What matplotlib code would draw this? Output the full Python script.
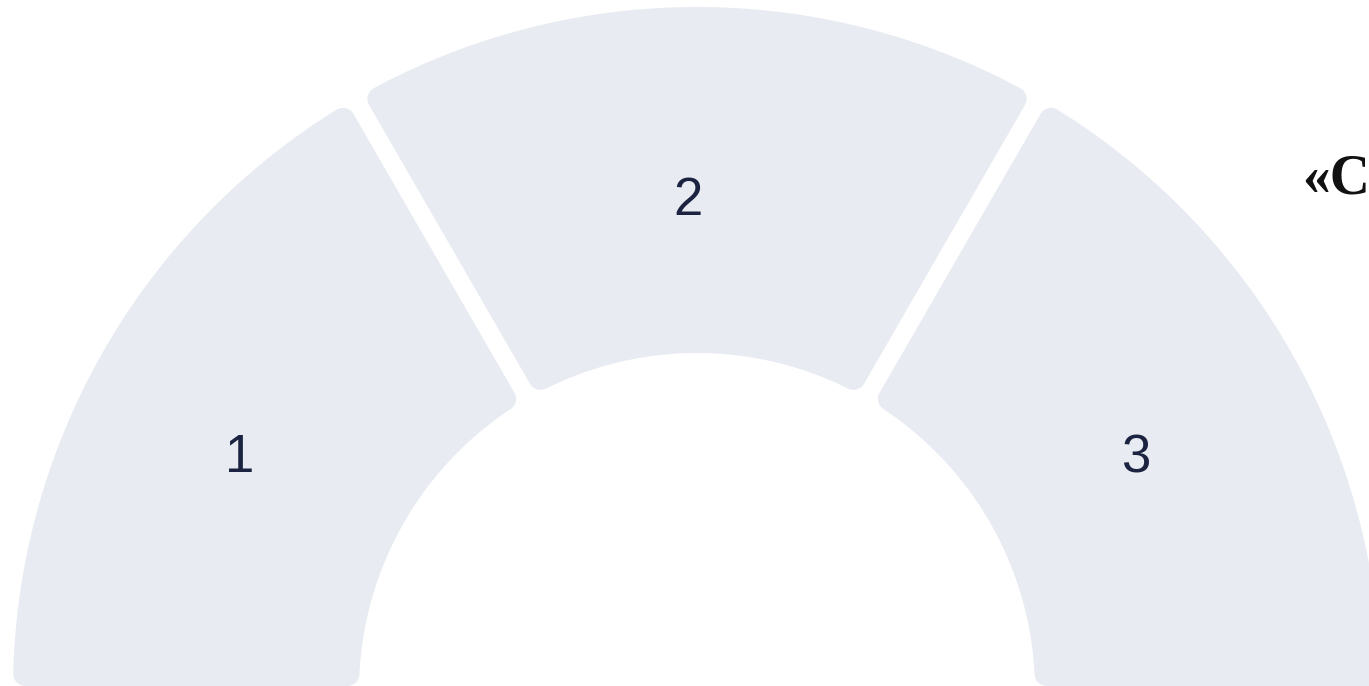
import numpy as np
import matplotlib
matplotlib.use("Agg")
import matplotlib.pyplot as plt
from matplotlib.patches import Polygon

# datos
labels = ["1", "2", "3"]
values = [1, 1, 1]
title_text = "«C"

# geometría (px)
W, H = 1369, 686
cx, cy = 697, -5
r_in, r_out = 338, 684
gap = 9          # medio hueco entre sectores
corner = 12      # radio de esquinas
fill = "#E8EBF2"
txt_color = "#1B2340"
label_shift = [(-4, -1), (-9, -20), (-14, -1)]  # ajuste fino de etiquetas

fig = plt.figure(figsize=(W / 100, H / 100), dpi=100)
ax = fig.add_axes([0, 0, 1, 1])
ax.set_xlim(0, W)
ax.set_ylim(0, H)
ax.axis("off")


def sector(a1, a2, d1, d2):
    # a1 < a2 en grados; d1, d2 desplazamiento de los bordes rectos
    ro = r_out - corner
    ri = r_in + corner
    d1 += corner
    d2 += corner
    t1o = np.radians(a1) + np.arcsin(d1 / ro)
    t2o = np.radians(a2) - np.arcsin(d2 / ro)
    t1i = np.radians(a1) + np.arcsin(d1 / ri)
    t2i = np.radians(a2) - np.arcsin(d2 / ri)
    to = np.linspace(t1o, t2o, 200)
    ti = np.linspace(t2i, t1i, 200)
    xs = np.concatenate([cx + ro * np.cos(to), cx + ri * np.cos(ti)])
    ys = np.concatenate([cy + ro * np.sin(to), cy + ri * np.sin(ti)])
    return np.column_stack([xs, ys])


total = sum(values)
start = 180.0
n = len(values)
for i, (lab, v) in enumerate(zip(labels, values)):
    span = 180.0 * v / total
    a2 = start
    a1 = start - span
    d_hi = -cy if i == 0 else gap       # borde inferior izquierdo
    d_lo = -cy if i == n - 1 else gap   # borde inferior derecho
    pts = sector(a1, a2, d_lo, d_hi)
    ax.add_patch(Polygon(pts, closed=True, facecolor=fill, edgecolor=fill,
                         linewidth=2 * corner * 72 / 100, joinstyle="round"))
    mid = np.radians((a1 + a2) / 2 + (i - 1) * -2.7)
    rr = 510
    dx, dy = label_shift[i]
    ax.text(cx + rr * np.cos(mid) + dx, cy + rr * np.sin(mid) + dy, lab,
            ha="center", va="center", fontsize=38, color=txt_color,
            family="Liberation Sans")
    start = a1

ax.text(1302, 507, title_text, ha="left", va="center", fontsize=40,
        fontweight="bold", color="#111111", family="Liberation Serif")

fig.savefig("out.png", dpi=100)
